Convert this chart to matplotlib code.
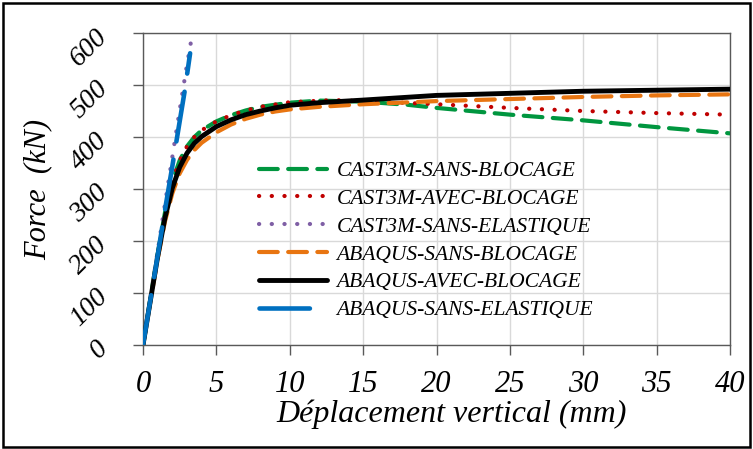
import matplotlib
matplotlib.use("Agg")
import matplotlib.pyplot as plt
from matplotlib.patches import Rectangle

# ---- data ----
x_cast_sb = [0, 0.5, 1, 1.5, 2, 2.5, 3, 3.5, 4, 5, 6, 7, 8, 10, 12, 15, 18, 20, 25, 30, 35, 40]
f_cast_sb = [0, 88, 175, 255, 315, 355, 382, 400, 413, 430, 442, 451, 458, 466, 470, 468, 462, 456, 443, 432, 419, 407]

x_cast_ab = [0, 0.5, 1, 1.5, 2, 2.5, 3, 3.5, 4, 5, 6, 7, 8, 10, 13, 16, 20, 25, 30, 35, 40]
f_cast_ab = [0, 88, 175, 255, 315, 355, 382, 400, 413, 430, 442, 451, 458, 467, 471, 468, 463, 456, 450, 446, 443]

x_cast_se = [0, 0.5, 1, 1.5, 2, 2.5, 3, 3.3]
f_cast_se = [0, 90, 180, 272, 362, 452, 540, 588]

x_abq_sb = [0, 0.5, 1, 1.5, 2, 2.5, 3, 3.5, 4, 5, 6, 7, 8, 9, 10, 12, 15, 20, 25, 30, 35, 40]
f_abq_sb = [0, 84, 166, 238, 292, 330, 356, 375, 389, 409, 424, 435, 443, 449, 453, 458, 463, 469, 473, 477, 480, 482]

x_abq_ab = [0, 0.5, 1, 1.5, 2, 2.5, 3, 3.5, 4, 5, 6, 7, 8, 9, 10, 12, 15, 20, 25, 30, 35, 40]
f_abq_ab = [0, 85, 170, 245, 302, 342, 369, 388, 401, 420, 433, 443, 450, 456, 461, 466, 471, 480, 484, 488, 490, 492]

x_abq_se = [0, 0.5, 1, 1.5, 2, 2.5, 2.85, 3.21]
f_abq_se = [0, 86, 172, 260, 344, 430, 490, 561]

labels = ["CAST3M-SANS-BLOCAGE", "CAST3M-AVEC-BLOCAGE", "CAST3M-SANS-ELASTIQUE",
          "ABAQUS-SANS-BLOCAGE", "ABAQUS-AVEC-BLOCAGE", "ABAQUS-SANS-ELASTIQUE"]
xticks = [0, 5, 10, 15, 20, 25, 30, 35, 40]
yticks = [0, 100, 200, 300, 400, 500, 600]

W, H = 753, 449
fig = plt.figure(figsize=(W / 100, H / 100), dpi=100)
fig.patches.append(Rectangle((3 / W, 2 / H), 747 / W, 444 / H, transform=fig.transFigure,
                             fill=False, edgecolor="black", linewidth=1.8))

L, R, T, B = 143, 730, 33, 345
ax = fig.add_axes([L / W, (H - B) / H, (R - L) / W, (B - T) / H])

serif = "Liberation Serif"
lw = 3.0

ax.plot(x_cast_sb, f_cast_sb, color="#00963F", lw=lw, linestyle=(0, (4.5, 2.5)),
        dash_capstyle="round", label=labels[0], zorder=3)
ax.plot(x_cast_ab, f_cast_ab, color="#C00000", lw=lw, linestyle=(0, (0.05, 3.0)),
        dash_capstyle="round", label=labels[1], zorder=3)
ax.plot(x_cast_se, f_cast_se, color="#7F5FA5", lw=lw, linestyle=(0, (0.05, 3.0)),
        dash_capstyle="round", label=labels[2], zorder=3)
ax.plot(x_abq_sb, f_abq_sb, color="#E87511", lw=lw, linestyle=(0, (4.5, 2.5)),
        dash_capstyle="round", label=labels[3], zorder=3)
ax.plot(x_abq_ab, f_abq_ab, color="black", lw=lw + 0.5, linestyle="-",
        solid_capstyle="round", label=labels[4], zorder=4)
ax.plot(x_abq_se, f_abq_se, color="#0070C0", lw=lw + 0.3, linestyle=(0, (11, 4)),
        dash_capstyle="round", label=labels[5], zorder=5)

ax.set_xlim(0, 40)
ax.set_ylim(0, 600)
ax.set_xticks(xticks)
ax.set_yticks(yticks)
ax.grid(True, color="#D9D9D9", lw=1.0)
ax.set_axisbelow(True)
for s in ax.spines.values():
    s.set_color("#595959")
    s.set_linewidth(1.0)

ax.tick_params(axis="x", direction="out", length=7, width=1, color="#595959", pad=11)
ax.tick_params(axis="y", direction="out", length=7, width=1, color="#595959", pad=21)
ax.set_xticklabels([str(v) for v in xticks], fontfamily=serif, fontstyle="italic", fontsize=22)
ax.set_yticklabels([str(v) for v in yticks], fontfamily=serif, fontstyle="italic", fontsize=20,
                   rotation=45, rotation_mode="anchor", ha="right", va="center")

fig.text(452 / W, 1 - 414 / H, "Déplacement vertical (mm)", fontfamily=serif,
         fontstyle="italic", fontsize=23, ha="center", va="center")
fig.text(38 / W, 1 - 190 / H, "Force  (kN)", fontfamily=serif, fontstyle="italic",
         fontsize=22, ha="center", va="center", rotation=90)

leg = ax.legend(loc="upper left", bbox_to_anchor=((259 - L) / (R - L), (B - 161) / (B - T)),
                frameon=False, handlelength=3.15, handletextpad=0.45, labelspacing=0.36,
                borderaxespad=0, borderpad=0,
                prop={"family": serif, "style": "italic", "size": 15.5})

fig.savefig("out.png", dpi=100)
